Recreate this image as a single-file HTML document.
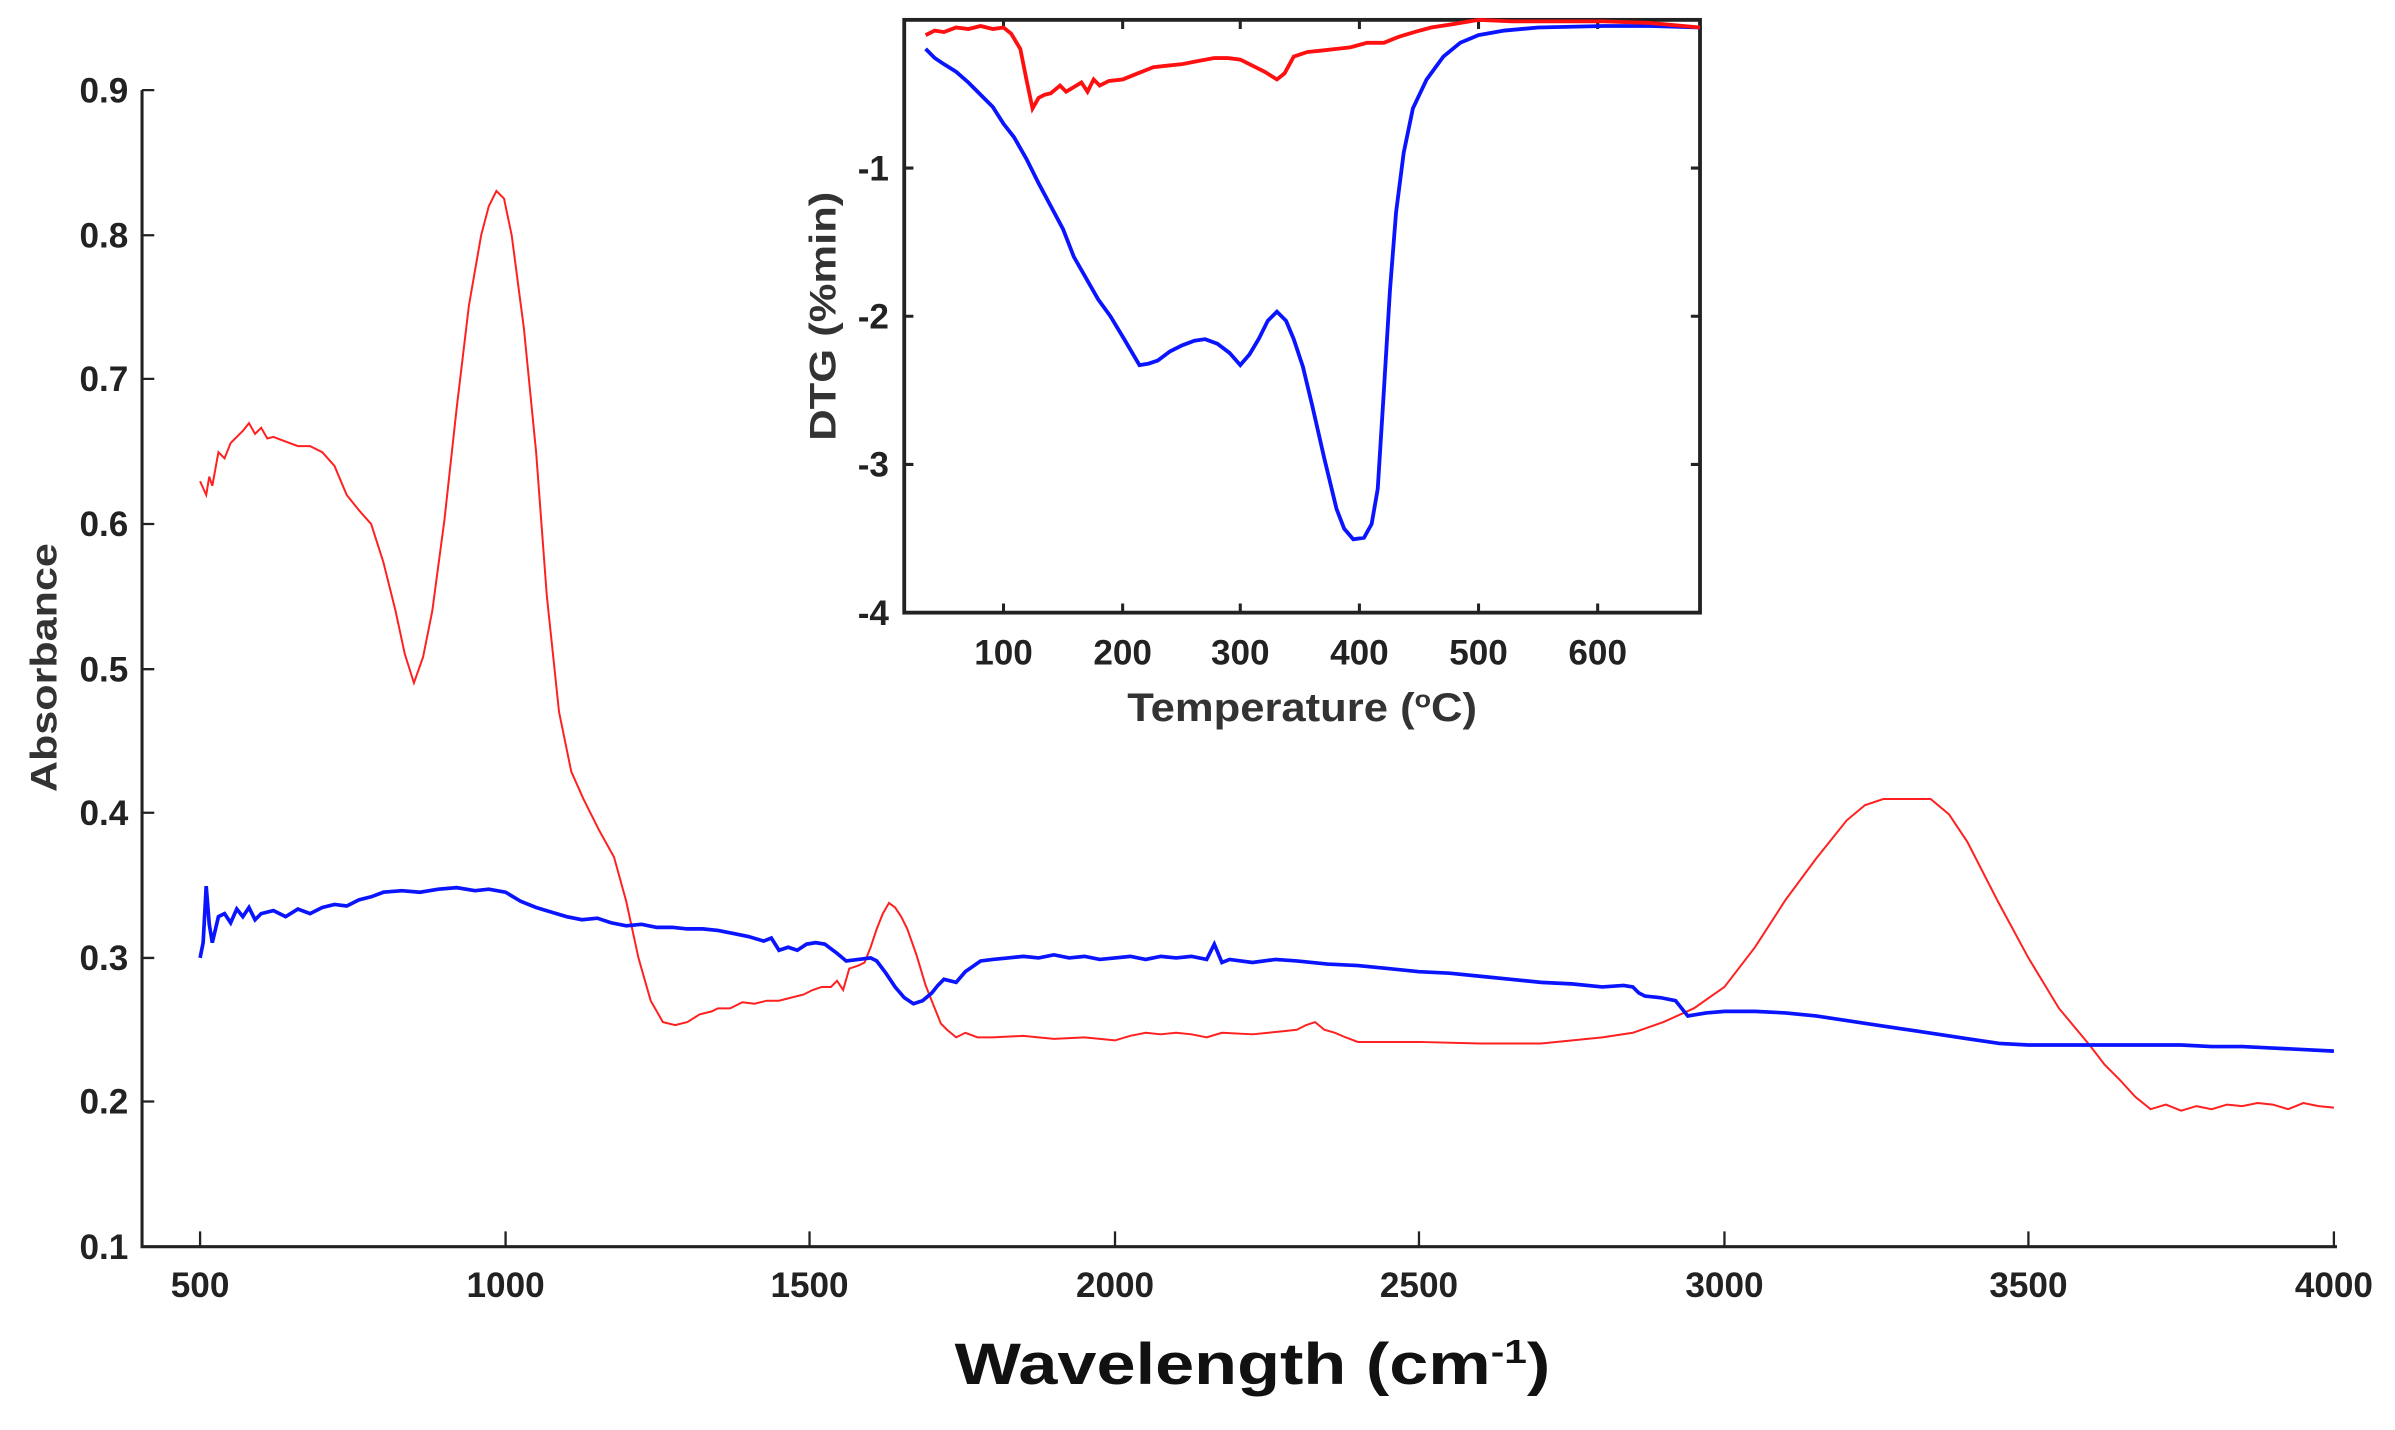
<!DOCTYPE html>
<html><head><meta charset="utf-8"><style>html,body{margin:0;padding:0;background:#fff}svg{display:block}</style></head>
<body>
<svg width="2395" height="1430" viewBox="0 0 1568 936" preserveAspectRatio="none" xmlns="http://www.w3.org/2000/svg">
<rect width="1568" height="936" fill="#fff"/>
<g font-family="'Liberation Sans Narrow','Liberation Sans',sans-serif" font-weight="bold" fill="#222">
<path d="M93,59 V816 H1530" fill="none" stroke="#222" stroke-width="2"/>
<g stroke="#222" stroke-width="1.5">
<path d="M93,59h8M93,154h8M93,248h8M93,343h8M93,438h8M93,532h8M93,627h8M93,721h8"/>
<path d="M131,816v-10M331,816v-10M530,816v-10M730,816v-10M929,816v-10M1129,816v-10M1328,816v-10M1528,816v-10"/>
</g>
<g font-size="23" text-anchor="end">
<text x="84" y="67">0.9</text><text x="84" y="162">0.8</text><text x="84" y="256">0.7</text><text x="84" y="351">0.6</text><text x="84" y="446">0.5</text><text x="84" y="540">0.4</text><text x="84" y="635">0.3</text><text x="84" y="729">0.2</text><text x="84" y="824">0.1</text>
</g>
<g font-size="23" text-anchor="middle">
<text x="131" y="849">500</text><text x="331" y="849">1000</text><text x="530" y="849">1500</text><text x="730" y="849">2000</text><text x="929" y="849">2500</text><text x="1129" y="849">3000</text><text x="1328" y="849">3500</text><text x="1528" y="849">4000</text>
</g>
<text x="625" y="906" font-family="'Liberation Sans',sans-serif" font-size="38" fill="#111" textLength="390" lengthAdjust="spacingAndGlyphs">Wavelength (cm<tspan font-size="22" dy="-14">-1</tspan><tspan dy="14">)</tspan></text>
<text transform="translate(37,437) rotate(-90)" font-family="'Liberation Sans',sans-serif" font-size="24" text-anchor="middle" fill="#333" textLength="163" lengthAdjust="spacingAndGlyphs">Absorbance</text>

<polyline fill="none" stroke="#ff2020" stroke-width="1.3" points="131,315 135,324 137,312 139,318 143,296 147,300 151,290 155,286 159,282 163,277 167,284 171,280 175,287 179,286 187,289 195,292 203,292 211,296 219,305 227,324 235,334 243,343 251,368 259,400 265,428 271,447 277,430 283,400 291,340 299,267 307,200 315,154 320,135 325,125 330,130 335,154 343,215 351,296 358,390 366,466 374,505 382,523 392,543 402,561 410,590 418,627 426,655 434,669 442,671 450,669 458,664 466,662 470,660 478,660 486,656 494,657 502,655 510,655 518,653 526,651 532,648 538,646 544,646 548,642 552,648 556,634 562,632 566,630 570,620 574,608 578,598 582,591 586,594 590,600 594,608 600,625 606,645 610,655 616,670 620,674 626,679 632,676 640,679 650,679 670,678 690,680 710,679 730,681 740,678 750,676 760,677 770,676 780,677 790,679 800,676 820,677 840,675 849,674 855,671 861,669 867,674 874,676 881,679 889,682 929,682 969,683 1009,683 1049,679 1069,676 1089,669 1109,660 1129,646 1149,620 1169,589 1189,562 1209,537 1221,527 1233,523 1248,523 1264,523 1276,533 1288,551 1308,590 1328,627 1348,660 1368,684 1378,697 1388,707 1398,718 1408,726 1418,723 1428,727 1438,724 1448,726 1458,723 1468,724 1478,722 1488,723 1498,726 1508,722 1518,724 1528,725"/>

<polyline fill="none" stroke="#0a14ff" stroke-width="2.4" points="131,627 133,617 135,580 137,605 139,617 143,600 147,598 151,604 155,595 159,600 163,594 167,602 171,598 179,596 187,600 195,595 203,598 211,594 219,592 227,593 235,589 243,587 251,584 263,583 275,584 287,582 299,581 311,583 320,582 331,584 341,590 351,594 361,597 371,600 381,602 391,601 400,604 410,606 420,605 430,607 440,607 450,608 460,608 470,609 480,611 490,613 500,616 505,614 510,622 516,620 522,622 528,618 534,617 540,618 548,624 554,629 562,628 570,627 574,629 580,637 586,646 592,653 598,657 604,655 610,650 614,645 618,641 622,642 626,643 632,636 642,629 650,628 660,627 670,626 680,627 690,625 700,627 710,626 720,628 730,627 740,626 750,628 760,626 770,627 780,626 790,628 795,618 800,630 805,628 820,630 835,628 849,629 869,631 889,632 909,634 929,636 949,637 969,639 989,641 1009,643 1029,644 1049,646 1063,645 1069,646 1073,650 1077,652 1087,653 1097,655 1101,660 1105,665 1117,663 1129,662 1149,662 1169,663 1189,665 1209,668 1229,671 1249,674 1269,677 1289,680 1309,683 1328,684 1348,684 1368,684 1388,684 1408,684 1428,684 1448,685 1468,685 1488,686 1508,687 1528,688"/>

<rect x="592" y="13" width="521" height="388" fill="#fff" stroke="#222" stroke-width="2.5"/>
<g stroke="#222" stroke-width="2">
<path d="M592,110h6M592,207h6M592,304h6M1113,110h-6M1113,207h-6M1113,304h-6"/>
<path d="M657,401v-6M735,401v-6M812,401v-6M890,401v-6M968,401v-6M1046,401v-6M657,13v6M735,13v6M812,13v6M890,13v6M968,13v6M1046,13v6"/>
</g>
<g font-size="23" text-anchor="end">
<text x="582" y="118">-1</text><text x="582" y="215">-2</text><text x="582" y="312">-3</text><text x="582" y="409">-4</text>
</g>
<g font-size="23" text-anchor="middle">
<text x="657" y="435">100</text><text x="735" y="435">200</text><text x="812" y="435">300</text><text x="890" y="435">400</text><text x="968" y="435">500</text><text x="1046" y="435">600</text>
</g>
<text x="738" y="472" font-family="'Liberation Sans',sans-serif" font-size="26" fill="#333" textLength="229" lengthAdjust="spacingAndGlyphs">Temperature (<tspan font-size="16" dy="-9">o</tspan><tspan dy="9">C)</tspan></text>
<text transform="translate(547,207) rotate(-90)" font-family="'Liberation Sans',sans-serif" font-size="24" text-anchor="middle" fill="#333" textLength="163" lengthAdjust="spacingAndGlyphs">DTG (%min)</text>

<polyline fill="none" stroke="#0a14ff" stroke-width="2.5" points="606,32 612,38 618,42 626,47 634,54 642,62 650,70 657,81 664,90 672,104 680,120 688,135 696,150 703,168 711,182 719,196 727,207 736,222 746,239 752,238 758,236 766,230 774,226 782,223 789,222 797,225 805,231 812,239 818,232 824,222 830,210 836,204 842,210 847,222 853,240 859,265 867,300 875,333 880,346 886,353 893,352 898,343 902,320 906,256 910,190 914,139 919,100 925,71 934,52 945,37 956,28 968,23 985,20 1007,18 1050,17 1080,17 1113,18"/>
<polyline fill="none" stroke="#ff1010" stroke-width="2.5" points="606,23 612,20 618,21 626,18 634,19 642,17 650,19 657,18 662,22 668,32 672,52 676,71 680,64 684,62 688,61 694,56 698,60 703,57 708,54 712,60 716,52 720,56 726,53 735,52 745,48 755,44 764,43 774,42 784,40 795,38 804,38 812,39 820,43 828,47 836,52 841,48 847,37 856,34 866,33 875,32 884,31 895,28 906,28 916,24 926,21 937,18 950,16 968,13 990,14 1020,14 1050,14 1080,15 1113,18"/>
</g>
</svg>
</body></html>
